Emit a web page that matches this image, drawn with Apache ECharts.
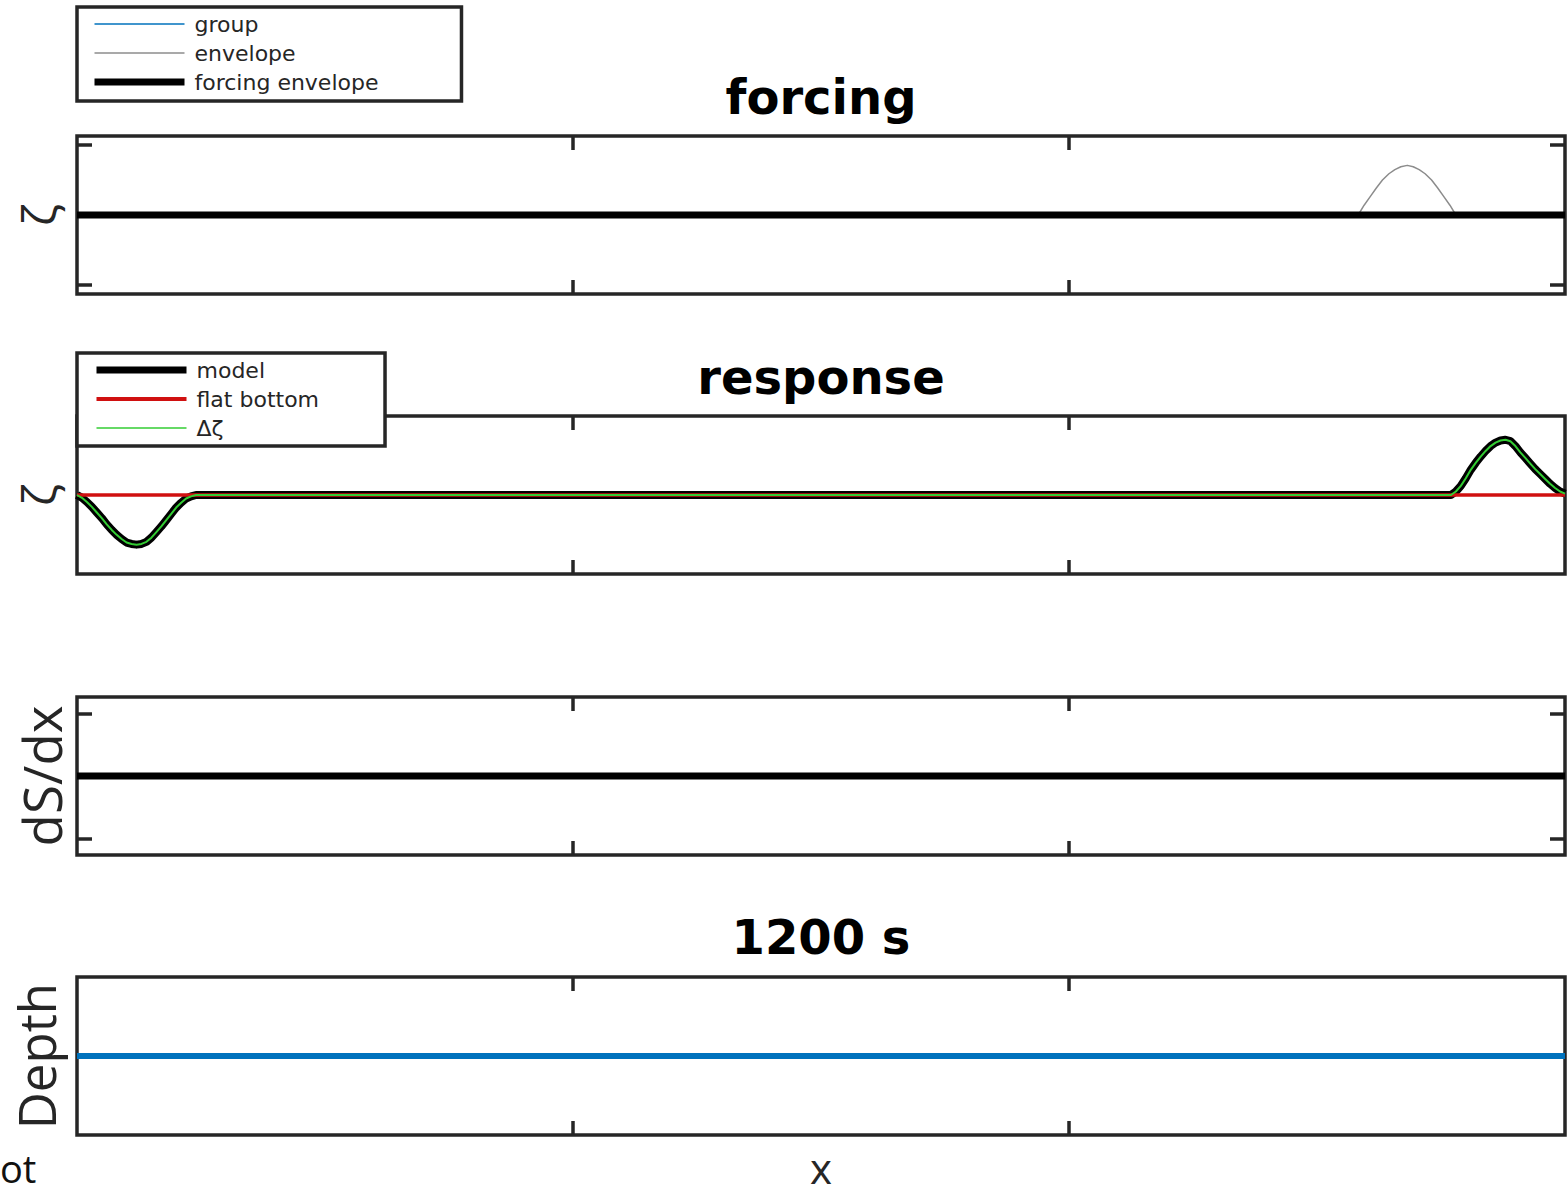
<!DOCTYPE html>
<html>
<head>
<meta charset="utf-8">
<title>forcing / response</title>
<script src="https://cdn.jsdelivr.net/npm/echarts@6/dist/echarts.min.js"></script>
<style>
  html, body { margin: 0; padding: 0; background: #fff; }
  #chart { width: 1567px; height: 1197px; }
</style>
</head>
<body>
<div id="chart"></div>
<script>
// ---- data ----------------------------------------------------------------
const xRange = [0, 3];
const xTickValues = [0, 1, 2, 3];
const yTickValues = [-1, 1];

// forcing panel
const groupX = [0, 3];
const groupY = [0, 0];
const forcingX = [0, 3];
const forcingY = [0, 0];
const envelopeX = [0, 2.583, 2.595, 2.608, 2.620, 2.632, 2.645, 2.657, 2.669, 2.682,
                   2.694, 2.706, 2.718, 2.731, 2.743, 2.755, 2.768, 2.780, 3];
const envelopeY = [0, 0, 0.14, 0.27, 0.39, 0.50, 0.59, 0.65, 0.69, 0.71,
                   0.69, 0.65, 0.59, 0.50, 0.39, 0.27, 0.14, 0, 0];

// response panel
const modelX = [0, 0.01, 0.02, 0.03, 0.04, 0.05, 0.06, 0.07, 0.08, 0.09, 0.10, 0.11, 0.12,
                0.13, 0.14, 0.15, 0.16, 0.17, 0.18, 0.19, 0.20, 0.21, 0.22, 0.23, 0.24,
                2.77, 2.78, 2.79, 2.80, 2.81, 2.82, 2.83, 2.84, 2.85, 2.86, 2.87, 2.88,
                2.89, 2.90, 2.91, 2.92, 2.93, 2.94, 2.95, 2.96, 2.97, 2.98, 2.99, 3.0];
const modelY = [0, -0.04, -0.10, -0.17, -0.25, -0.33, -0.42, -0.50, -0.57, -0.63, -0.68, -0.70, -0.71,
                -0.70, -0.67, -0.61, -0.53, -0.45, -0.36, -0.27, -0.18, -0.11, -0.05, -0.02, 0,
                0, 0.05, 0.13, 0.24, 0.36, 0.46, 0.55, 0.63, 0.70, 0.75, 0.78, 0.79,
                0.77, 0.70, 0.61, 0.53, 0.45, 0.37, 0.30, 0.23, 0.16, 0.10, 0.05, 0.02];
const deltaX = modelX;
const deltaY = modelY;
const flatX = [0, 3];
const flatY = [0, 0];

// slope panel
const slopeX = [0, 3];
const slopeY = [0, 0];

// depth panel
const depthX = [0, 3];
const depthY = [0, 0];

// ---- helpers -------------------------------------------------------------
const INK = '#262626';
const zip = (xs, ys) => xs.map((x, i) => [x, ys[i]]);

const gridTops = [136, 416, 697, 977];
const yExtent = [1.13, 1.13, 1.264, 1.13];
const yNames = ['ζ', 'ζ', 'dS/dx', 'Depth'];
const yNameSize = [46, 46, 53, 51];
const yNameGap = [17, 17, 14, 19];
const yTicked = [true, false, true, false];

const grids = gridTops.map(t => ({
  left: 77, right: 2, top: t, height: 158,
  containLabel: false, outerBoundsMode: 'none',
  show: true, borderColor: INK, borderWidth: 3.5, backgroundColor: 'transparent'
}));

const tickStyle = { color: INK, width: 3.5 };

const xAxes = [];
gridTops.forEach((t, i) => {
  ['bottom', 'top'].forEach(pos => {
    const ax = {
      type: 'value', gridIndex: i, position: pos,
      min: xRange[0], max: xRange[1], interval: 1,
      axisLine: { show: false, onZero: false },
      axisTick: { show: true, inside: true, length: 14, lineStyle: tickStyle,
                  customValues: xTickValues.slice(1, -1) },
      axisLabel: { show: false },
      splitLine: { show: false }
    };
    if (i === 3 && pos === 'bottom') {
      ax.name = 'x';
      ax.nameLocation = 'middle';
      ax.nameGap = 15;
      ax.nameTextStyle = { fontFamily: 'Open Sans', fontSize: 42, lineHeight: 34, color: INK };
    }
    xAxes.push(ax);
  });
});

const yAxes = [];
gridTops.forEach((t, i) => {
  ['left', 'right'].forEach(pos => {
    const ax = {
      type: 'value', gridIndex: i, position: pos,
      min: -yExtent[i], max: yExtent[i],
      axisLine: { show: false, onZero: false },
      axisTick: { show: yTicked[i], inside: true, length: 15, lineStyle: tickStyle,
                  customValues: yTickValues },
      axisLabel: { show: false },
      splitLine: { show: false }
    };
    if (pos === 'left') {
      ax.name = yNames[i];
      ax.nameLocation = 'middle';
      ax.nameRotate = 90;
      ax.nameGap = yNameGap[i];
      ax.nameTextStyle = { fontFamily: 'Open Sans', fontSize: yNameSize[i],
                           lineHeight: 44, color: INK };
    }
    yAxes.push(ax);
  });
});

function line(name, grid, xs, ys, color, width, z) {
  return {
    type: 'line', name: name,
    xAxisIndex: grid * 2, yAxisIndex: grid * 2,
    data: zip(xs, ys),
    symbol: 'none', showSymbol: false, smooth: false,
    lineStyle: { color: color, width: width, join: 'round', cap: 'butt' },
    itemStyle: { color: color },
    z: z, silent: true, animation: false
  };
}

const series = [
  line('group', 0, groupX, groupY, '#0072BD', 1.5, 2),
  line('envelope', 0, envelopeX, envelopeY, '#8c8c8c', 1.5, 3),
  line('forcing envelope', 0, forcingX, forcingY, '#000000', 7, 4),

  line('model', 1, modelX, modelY, '#000000', 8, 2),
  line('flat bottom', 1, flatX, flatY, '#d01010', 3.5, 3),
  line('Δζ', 1, deltaX, deltaY, '#33cc33', 2, 4),

  line('dS/dx', 2, slopeX, slopeY, '#000000', 7, 2),
  line('depth', 3, depthX, depthY, '#0072BD', 6, 2)
];

const legendText = { fontFamily: 'DejaVu Sans', fontSize: 22, color: INK, lineHeight: 22,
                     padding: [0, 0, 0, 5] };
const hiddenMarker = { opacity: 0, borderWidth: 0 };
const legendBase = {
  orient: 'vertical', selectedMode: false,
  itemWidth: 90, itemHeight: 22, itemGap: 7,
  backgroundColor: '#ffffff', borderColor: INK, borderWidth: 3.5,
  textStyle: legendText, z: 10
};

const legends = [
  Object.assign({}, legendBase, {
    left: 77, top: 7, padding: [6, 83, 8, 14],
    data: [
      { name: 'group', itemStyle: hiddenMarker, lineStyle: { width: 1.5, color: '#0072BD' } },
      { name: 'envelope', itemStyle: hiddenMarker, lineStyle: { width: 1.5, color: '#8c8c8c' } },
      { name: 'forcing envelope', itemStyle: hiddenMarker, lineStyle: { width: 7, color: '#000000' } }
    ]
  }),
  Object.assign({}, legendBase, {
    left: 77, top: 353, padding: [6, 66, 7, 16],
    data: [
      { name: 'model', itemStyle: hiddenMarker, lineStyle: { width: 7, color: '#000000' } },
      { name: 'flat bottom', itemStyle: hiddenMarker, lineStyle: { width: 4, color: '#d01010' } },
      { name: 'Δζ', itemStyle: hiddenMarker, lineStyle: { width: 1.5, color: '#33cc33' } }
    ]
  })
];

const titleFont = 'bold 48px "DejaVu Sans"';
const graphics = [
  { type: 'text', x: 821, y: 97, style: { text: 'forcing', font: titleFont, fill: '#000',
    textAlign: 'center', textVerticalAlign: 'middle' } },
  { type: 'text', x: 821, y: 377, style: { text: 'response', font: titleFont, fill: '#000',
    textAlign: 'center', textVerticalAlign: 'middle' } },
  { type: 'text', x: 821, y: 937, style: { text: '1200 s', font: titleFont, fill: '#000',
    textAlign: 'center', textVerticalAlign: 'middle' } },
  { type: 'text', x: 0, y: 1168, style: { text: 'ot', font: '38px "Open Sans"', fill: '#111',
    textAlign: 'left', textVerticalAlign: 'middle' } }
];

const chart = echarts.init(document.getElementById('chart'), null, { renderer: 'svg' });
chart.setOption({
  animation: false,
  backgroundColor: '#ffffff',
  grid: grids,
  xAxis: xAxes,
  yAxis: yAxes,
  legend: legends,
  series: series,
  graphic: graphics
});
</script>
</body>
</html>
